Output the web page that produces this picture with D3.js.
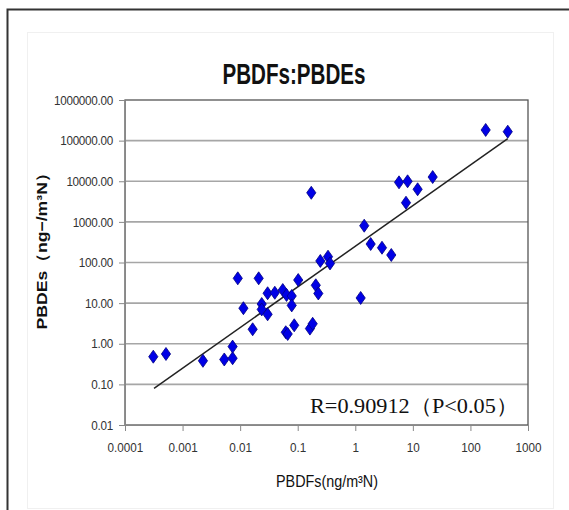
<!DOCTYPE html>
<html>
<head>
<meta charset="utf-8">
<script src="https://cdn.jsdelivr.net/npm/d3@7/dist/d3.min.js"></script>
<style>
  html, body { margin: 0; padding: 0; background: #fff; }
  svg { display: block; }
</style>
</head>
<body>
<svg id="chart" width="569" height="510"></svg>
<script>
// PBDFs concentration (x) against PBDEs concentration (y), log–log
const pbdfs = [
  0.00031, 0.000515, 0.00226, 0.0053, 0.0074, 0.0074, 0.0091, 0.0114, 0.0165, 0.021,
  0.0237, 0.0237, 0.030, 0.030, 0.040, 0.055, 0.064, 0.062, 0.067, 0.0787,
  0.0787, 0.087, 0.102, 0.172, 0.163, 0.182, 0.206, 0.228, 0.247, 0.336,
  0.364, 1.24, 1.43, 1.85, 2.91, 4.22, 5.75, 8.1, 12.1, 7.6,
  22.1, 184, 445
];
const pbdes = [
  0.48, 0.56, 0.38, 0.41, 0.44, 0.85, 40.8, 7.5, 2.27, 40.8,
  9.5, 7.0, 17.5, 5.3, 18, 21, 15.9, 1.92, 1.74, 15,
  8.8, 2.85, 37, 5200, 2.36, 3.1, 27.5, 17.3, 109, 139,
  95, 13.4, 805, 285, 231, 153, 9400, 9970, 6340, 2960,
  12700, 183000, 166000
];
// Power trendline y = a * x^b
const trendA = 251;
const trendB = 1.0;

const xTicks = [0.0001, 0.001, 0.01, 0.1, 1, 10, 100, 1000];
const xTickLabels = ["0.0001", "0.001", "0.01", "0.1", "1", "10", "100", "1000"];
const yTicks = [0.01, 0.1, 1, 10, 100, 1000, 10000, 100000, 1000000];
const yTickLabels = ["0.01", "0.10", "1.00", "10.00", "100.00", "1000.00", "10000.00", "100000.00", "1000000.00"];

const titleText = "PBDFs:PBDEs";
const xTitle = "PBDFs(ng/m\u00B3N)";
const yTitle = "PBDEs\uFF08ng\u2212/m\u00B3N\uFF09";
const note = "R=0.90912\uFF08P<0.05\uFF09";

const svg = d3.select("#chart");
const sans = "'Liberation Sans', Arial, sans-serif";
const squeeze = 0.9; // horizontal condensing of the axis lettering

// outer frame and chart area
svg.append("rect").attr("x", 7.5).attr("y", 9.5).attr("width", 600).attr("height", 600)
  .attr("fill", "#fff").attr("stroke", "#333").attr("stroke-width", 2);
svg.append("rect").attr("x", 27.5).attr("y", 32.5).attr("width", 526).attr("height", 476)
  .attr("fill", "#fff").attr("stroke", "#f0f0f0").attr("stroke-width", 1);

const plot = { left: 125, right: 528, top: 100, bottom: 425 };

const x = d3.scaleLog().domain([0.0001, 1000]).range([plot.left, plot.right]);
const y = d3.scaleLog().domain([0.01, 1000000]).range([plot.bottom, plot.top]);

// horizontal gridlines
svg.append("g").selectAll("line").data(yTicks.slice(1, -1)).join("line")
  .attr("x1", plot.left).attr("x2", plot.right)
  .attr("y1", d => y(d)).attr("y2", d => y(d))
  .attr("stroke", "#a6a6a6").attr("stroke-width", 1.6);

// plot frame
svg.append("rect").attr("x", plot.left).attr("y", plot.top)
  .attr("width", plot.right - plot.left).attr("height", plot.bottom - plot.top)
  .attr("fill", "none").attr("stroke", "#555").attr("stroke-width", 1.3);

// axes
const xAxis = d3.axisBottom(x).tickValues(xTicks).tickSize(6)
  .tickFormat((d, i) => xTickLabels[i]);
const gx = svg.append("g").attr("transform", `translate(0,${plot.bottom})`).call(xAxis);
gx.select(".domain").attr("stroke", "#888");
gx.selectAll(".tick line").attr("stroke", "#888");
gx.selectAll(".tick text").attr("font-family", sans).attr("font-size", 13)
  .attr("fill", "#333").attr("dy", "1.4em").attr("transform", `scale(${squeeze},1)`);

const yAxis = d3.axisLeft(y).tickValues(yTicks).tickSize(6)
  .tickFormat((d, i) => yTickLabels[i]);
const gy = svg.append("g").attr("transform", `translate(${plot.left},0)`).call(yAxis);
gy.select(".domain").attr("stroke", "#888");
gy.selectAll(".tick line").attr("stroke", "#888");
gy.selectAll(".tick text").attr("font-family", sans).attr("font-size", 13)
  .attr("fill", "#333").attr("x", -12 / squeeze).attr("transform", `scale(${squeeze},1)`)
  .attr("letter-spacing", -0.3);

// trendline across the data range
const xr = d3.extent(pbdfs);
const trend = [xr[0] * 1.03, xr[1]].map(v => [v, trendA * Math.pow(v, trendB)]);
svg.append("path")
  .attr("d", d3.line().x(d => x(d[0])).y(d => y(d[1]))(trend))
  .attr("stroke", "#222").attr("stroke-width", 1.5).attr("fill", "none");

// diamond markers
const pts = pbdfs.map((v, i) => [v, pbdes[i]]);
svg.append("g").selectAll("path").data(pts).join("path")
  .attr("transform", d => `translate(${x(d[0])},${y(d[1])})`)
  .attr("d", "M0,-6.5L4.6,0L0,6.5L-4.6,0Z")
  .attr("fill", "#0000e6").attr("stroke", "#000080").attr("stroke-width", 0.8);

// title
svg.append("text").attr("x", 294).attr("y", 84).attr("text-anchor", "middle")
  .attr("font-family", sans).attr("font-size", 30).attr("font-weight", "bold")
  .attr("fill", "#111").attr("textLength", 143).attr("lengthAdjust", "spacingAndGlyphs")
  .text(titleText);

// axis titles
svg.append("text").attr("x", 327).attr("y", 487).attr("text-anchor", "middle")
  .attr("font-family", sans).attr("font-size", 16).attr("fill", "#111")
  .attr("textLength", 102).attr("lengthAdjust", "spacingAndGlyphs")
  .text(xTitle);
svg.append("text").attr("transform", "translate(47,247) rotate(-90)")
  .attr("text-anchor", "middle").attr("font-family", sans)
  .attr("font-size", 15).attr("font-weight", "bold").attr("fill", "#111")
  .attr("textLength", 165).attr("lengthAdjust", "spacingAndGlyphs")
  .text(yTitle);

// correlation note
svg.append("text").attr("x", 310).attr("y", 413)
  .attr("font-family", "'Liberation Serif', 'Times New Roman', serif")
  .attr("font-size", 21).attr("fill", "#111")
  .attr("textLength", 208).attr("lengthAdjust", "spacingAndGlyphs")
  .text(note);
</script>
</body>
</html>
